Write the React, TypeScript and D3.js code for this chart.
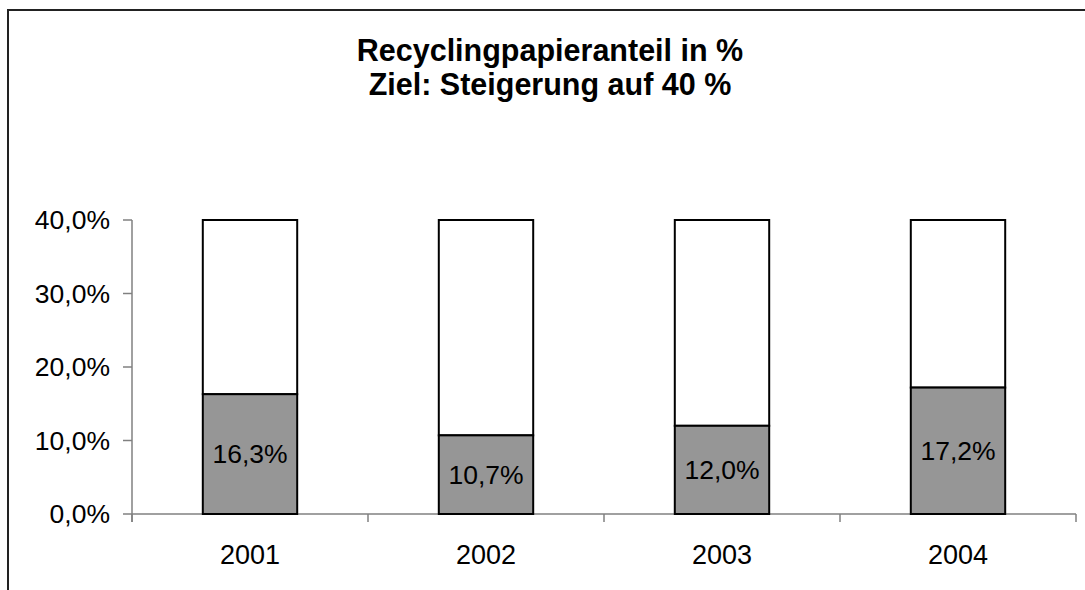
import React from "react";
import * as d3 from "d3";

const categories = ["2001", "2002", "2003", "2004"];
const recyclingValues = [16.3, 10.7, 12.0, 17.2];
const targetValue = 40;
const yTicks = [0, 10, 20, 30, 40];
const titleLines = ["Recyclingpapieranteil in %", "Ziel: Steigerung auf 40 %"];

const fmt = (v: number) => v.toFixed(1).replace(".", ",") + "%";

export default function App() {
  const W = 1085;
  const H = 590;
  const x0 = 132;
  const x1 = 1076;
  const yTop = 220;
  const yBottom = 514;
  const x = d3.scaleBand<string>().domain(categories).range([x0, x1]).paddingInner(0.6).paddingOuter(0.3);
  const y = d3.scaleLinear().domain([0, 40]).range([yBottom, yTop]);
  const bandEdges = d3.range(categories.length + 1).map((i) => x0 + ((x1 - x0) * i) / categories.length);
  const font = "Liberation Sans, Arial, Helvetica, sans-serif";

  return (
    <svg width={W} height={H} style={{ position: "absolute", left: 0, top: 0, background: "#fff" }} fontFamily={font}>
      <rect x={8} y={10} width={1200} height={700} fill="#fff" stroke="#222" strokeWidth={2} />
      {titleLines.map((t, i) => (
        <text key={i} x={550} y={61 + i * 34} textAnchor="middle" fontWeight="bold" fontSize={30.5} fill="#000">
          {t}
        </text>
      ))}
      {/* y axis */}
      <line x1={x0} x2={x0} y1={yTop} y2={522} stroke="#808080" strokeWidth={1.5} />
      {yTicks.map((t) => (
        <g key={t}>
          <line x1={123} x2={x0} y1={y(t)} y2={y(t)} stroke="#808080" strokeWidth={1.5} />
          <text x={110} y={y(t)} dy="0.35em" textAnchor="end" fontSize={26.5} fill="#000">
            {fmt(t)}
          </text>
        </g>
      ))}
      {/* x axis */}
      <line x1={x0} x2={x1} y1={yBottom} y2={yBottom} stroke="#808080" strokeWidth={1.5} />
      {bandEdges.map((e, i) => (
        <line key={i} x1={e} x2={e} y1={yBottom} y2={522} stroke="#808080" strokeWidth={1.5} />
      ))}
      {categories.map((c, i) => {
        const v = recyclingValues[i];
        const bx = x(c)!;
        const bw = x.bandwidth();
        return (
          <g key={c}>
            <rect x={bx} y={y(targetValue)} width={bw} height={y(v) - y(targetValue)} fill="#fff" stroke="#000" strokeWidth={2} />
            <rect x={bx} y={y(v)} width={bw} height={y(0) - y(v)} fill="#969696" stroke="#000" strokeWidth={2} />
            <text x={bx + bw / 2} y={(y(v) + y(0)) / 2} dy="0.35em" textAnchor="middle" fontSize={26.5} fill="#000">
              {fmt(v)}
            </text>
            <text x={bx + bw / 2} y={564} textAnchor="middle" fontSize={27} fill="#000">
              {c}
            </text>
          </g>
        );
      })}
    </svg>
  );
}
